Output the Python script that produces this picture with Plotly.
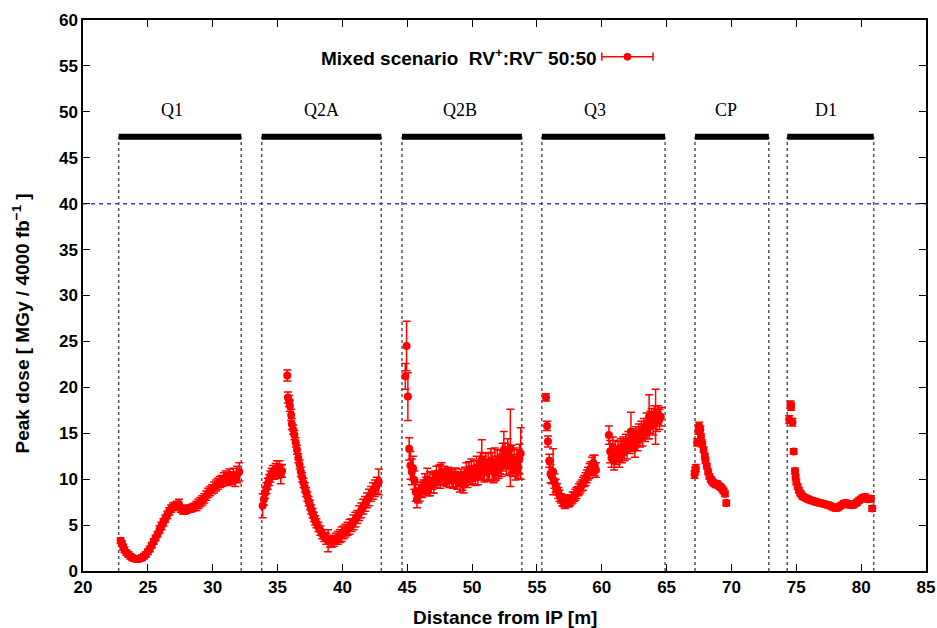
import plotly.graph_objects as go

# ---------------- data ----------------
q1_x = [22.9, 23.0, 23.1, 23.2, 23.35, 23.5, 23.65, 23.8, 23.95, 24.1, 24.25, 24.4, 24.55, 24.7, 24.85,
        25.0, 25.15, 25.3, 25.45, 25.6, 25.75, 25.9, 26.05, 26.2, 26.35, 26.5, 26.65, 26.8, 26.95, 27.1,
        27.25, 27.4, 27.55, 27.7, 27.85, 28.0, 28.15, 28.3, 28.45, 28.6, 28.75, 28.9, 29.05, 29.2, 29.35,
        29.5, 29.65, 29.8, 29.95, 30.1, 30.25, 30.4, 30.55, 30.7, 30.85, 31.0, 31.15, 31.3, 31.45, 31.6,
        31.75, 31.9, 32.05]
q1_y = [3.3, 3.0, 2.6, 2.3, 2.0, 1.8, 1.6, 1.45, 1.35, 1.3, 1.3, 1.35, 1.45, 1.6, 1.8,
        2.1, 2.4, 2.8, 3.2, 3.6, 4.0, 4.5, 4.9, 5.3, 5.7, 6.1, 6.5, 6.8, 7.0, 7.1,
        7.2, 7.3, 6.8, 6.6, 6.6, 6.7, 6.8, 6.8, 6.9, 7.0, 7.1, 7.3, 7.5, 7.7, 7.9,
        8.2, 8.5, 8.7, 8.9, 9.1, 9.3, 9.5, 9.7, 9.8, 10.0, 10.2, 10.0, 10.3, 10.1, 10.4,
        10.0, 10.5, 10.8]
q1_err = [0.3, 0.3, 0.3, 0.3, 0.3, 0.3, 0.3, 0.3, 0.3, 0.3, 0.3, 0.3, 0.3, 0.3, 0.3,
          0.3, 0.3, 0.3, 0.3, 0.3, 0.3, 0.4, 0.4, 0.4, 0.4, 0.4, 0.4, 0.4, 0.4, 0.4,
          0.4, 0.5, 0.4, 0.4, 0.4, 0.4, 0.4, 0.4, 0.4, 0.4, 0.5, 0.5, 0.5, 0.5, 0.5,
          0.5, 0.5, 0.5, 0.5, 0.6, 0.6, 0.6, 0.6, 0.6, 0.7, 0.7, 0.7, 0.8, 0.7, 0.8,
          0.8, 0.9, 1.0]

q2a_x = [33.85, 33.95, 34.05, 34.15, 34.25, 34.35, 34.45, 34.55, 34.65, 34.75, 34.85, 34.95, 35.05, 35.15,
         35.25, 35.35, 35.75, 35.8, 35.9, 35.95, 36.05, 36.1, 36.2, 36.3, 36.4, 36.5, 36.6, 36.7,
         36.8, 36.9, 37.0, 37.1, 37.2, 37.3, 37.4, 37.5, 37.6, 37.7, 37.8, 37.9, 38.0, 38.15,
         38.3, 38.45, 38.6, 38.75, 38.9, 39.05, 39.2, 39.35, 39.5, 39.65, 39.8, 39.95, 40.1, 40.25,
         40.4, 40.55, 40.7, 40.85, 41.0, 41.15, 41.3, 41.45, 41.6, 41.75, 41.9, 42.05, 42.2, 42.35,
         42.5, 42.65, 42.8]
q2a_y = [7.1, 7.8, 8.5, 9.0, 9.5, 9.9, 10.3, 10.6, 10.8, 10.6, 11.0, 11.2, 10.8, 11.3,
         10.5, 10.9, 21.3, 18.9, 18.5, 18.0, 17.0, 16.0, 15.4, 14.8, 14.0, 13.2, 12.3, 11.6,
         10.8, 10.2, 9.6, 9.1, 8.6, 8.1, 7.6, 7.2, 6.7, 6.3, 5.9, 5.5, 5.2, 4.8,
         4.4, 4.0, 3.7, 3.5, 3.3, 3.2, 3.2, 3.3, 3.5, 3.6, 3.8, 4.0, 4.2, 4.4,
         4.6, 4.8, 5.0, 5.3, 5.6, 5.9, 6.3, 6.6, 7.0, 7.3, 7.7, 8.0, 8.4, 8.7,
         9.0, 9.3, 9.7]
q2a_err = [1.3, 0.6, 0.6, 0.6, 0.6, 0.6, 0.6, 0.6, 0.7, 0.6, 0.7, 0.8, 0.7, 0.7,
           1.0, 0.7, 0.6, 0.6, 0.6, 0.6, 0.6, 0.6, 0.5, 0.5, 0.5, 0.5, 0.5, 0.5,
           0.5, 0.5, 0.5, 0.5, 0.5, 0.5, 0.5, 0.5, 0.5, 0.5, 0.5, 0.5, 0.5, 0.5,
           0.5, 0.5, 0.5, 0.6, 1.2, 0.6, 0.6, 0.6, 0.6, 0.7, 0.7, 0.8, 0.7, 0.7,
           0.7, 0.8, 0.7, 0.8, 0.8, 0.7, 0.8, 0.8, 0.8, 0.8, 0.8, 0.9, 0.8, 0.9,
           0.9, 0.9, 1.4]

q2b_x = [44.85, 44.95, 45.05, 45.15, 45.25, 45.35, 45.45, 45.55, 45.65, 45.75, 45.85, 45.95, 46.05, 46.15,
         46.25, 46.35, 46.45, 46.55, 46.65, 46.75, 46.85, 46.95, 47.05, 47.15, 47.25, 47.35, 47.45, 47.55,
         47.65, 47.75, 47.85, 47.95, 48.05, 48.15, 48.25, 48.35, 48.45, 48.55, 48.65, 48.75, 48.85, 48.95,
         49.05, 49.15, 49.25, 49.35, 49.45, 49.55, 49.65, 49.75, 49.85, 49.95, 50.05, 50.15, 50.25, 50.35,
         50.45, 50.55, 50.65, 50.75, 50.85, 50.95, 51.05, 51.15, 51.25, 51.35, 51.45, 51.55, 51.65, 51.75,
         51.85, 51.95, 52.05, 52.15, 52.25, 52.35, 52.45, 52.55, 52.65, 52.75, 52.85, 52.95, 53.05, 53.15,
         53.25, 53.35, 53.45, 53.55, 53.65, 53.75]
q2b_y = [21.2, 24.5, 19.0, 13.3, 11.5, 10.8, 11.2, 9.9, 8.6, 7.8, 8.2, 8.5, 8.9, 8.7,
         9.1, 9.6, 9.3, 10.0, 9.0, 9.5, 9.3, 9.8, 9.5, 10.0, 10.4, 10.1, 10.5, 10.3,
         10.6, 10.2, 10.4, 10.3, 10.1, 10.5, 10.0, 10.3, 10.1, 9.9, 10.4, 10.2, 9.8, 10.0,
         9.6, 10.2, 9.8, 9.4, 10.3, 10.6, 10.0, 10.8, 10.4, 11.0, 10.5, 10.9, 10.3, 11.3,
         10.7, 11.0, 11.5, 12.1, 11.2, 10.8, 11.6, 10.9, 11.4, 11.0, 12.0, 11.4, 10.8, 11.6,
         11.2, 11.8, 11.3, 11.9, 11.5, 12.4, 13.2, 12.5, 12.0, 12.8, 11.7, 13.4, 12.2, 11.5,
         12.0, 11.1, 11.8, 11.3, 12.2, 12.8]
q2b_err = [1.4, 2.7, 2.6, 1.2, 1.5, 1.4, 1.3, 1.0, 1.0, 0.9, 0.8, 0.9, 0.8, 0.7,
           0.8, 1.0, 0.9, 1.2, 0.8, 1.3, 0.8, 0.9, 1.0, 0.9, 1.0, 0.8, 1.0, 1.3,
           1.2, 0.9, 1.0, 0.8, 0.9, 0.8, 0.9, 0.8, 1.0, 0.9, 0.8, 1.0, 0.9, 0.8,
           1.0, 0.9, 1.0, 0.9, 1.0, 1.2, 0.9, 1.1, 1.0, 1.2, 1.0, 1.1, 1.0, 1.2,
           1.3, 1.0, 1.4, 2.2, 1.3, 1.1, 1.2, 1.1, 1.5, 1.2, 1.3, 1.5, 1.2, 1.8,
           1.3, 1.4, 1.2, 1.3, 1.2, 1.5, 2.0, 1.4, 1.5, 1.6, 1.3, 4.2, 1.5, 1.2,
           1.4, 1.2, 1.4, 1.2, 1.6, 2.8]

q3_x = [55.7, 55.78, 55.85, 55.95, 56.05, 56.15, 56.25, 56.35, 56.45, 56.55, 56.65, 56.75, 56.85, 56.95,
        57.05, 57.15, 57.25, 57.35, 57.45, 57.55, 57.65, 57.75, 57.85, 57.95, 58.05, 58.15, 58.25, 58.35,
        58.45, 58.55, 58.65, 58.75, 58.85, 58.95, 59.05, 59.15, 59.25, 59.35, 59.45, 59.55,
        60.55, 60.65, 60.75, 60.85, 60.95, 61.05, 61.15, 61.25, 61.35, 61.45, 61.55, 61.65, 61.75, 61.85,
        61.95, 62.05, 62.15, 62.25, 62.35, 62.45, 62.55, 62.65, 62.75, 62.85, 62.95, 63.05, 63.15, 63.25,
        63.35, 63.45, 63.55, 63.65, 63.75, 63.85, 63.95, 64.05, 64.15, 64.25, 64.35, 64.45, 64.55]
q3_y = [18.9, 15.8, 14.1, 12.0, 10.6, 10.3, 10.8, 9.8, 9.3, 8.9, 8.5, 8.2, 7.9, 7.7,
        7.5, 7.4, 7.5, 7.6, 7.5, 7.7, 7.8, 8.0, 8.1, 8.3, 8.5, 8.7, 8.9, 9.1,
        9.3, 9.5, 9.8, 10.0, 10.3, 10.6, 10.9, 11.2, 11.5, 11.8, 11.5, 11.0,
        14.8, 13.0, 12.3, 13.5, 12.0, 13.2, 12.5, 13.0, 12.2, 13.4, 12.8, 13.6, 13.1, 13.9,
        13.3, 14.2, 13.8, 15.2, 14.0, 14.5, 13.5, 14.7, 14.2, 15.0, 14.6, 15.3, 14.8, 15.6,
        15.2, 16.0, 15.5, 16.8, 16.2, 16.6, 16.0, 16.9, 16.8, 16.4, 17.0, 16.5, 16.8]
q3_err = [0.4, 0.5, 0.6, 0.7, 1.0, 0.8, 2.5, 0.8, 0.7, 0.6, 0.6, 0.6, 0.5, 0.6,
          0.5, 0.6, 0.5, 0.6, 0.5, 0.6, 0.5, 0.6, 0.5, 0.6, 0.6, 0.5, 0.6, 0.6,
          0.6, 0.7, 0.6, 0.7, 0.7, 0.7, 0.8, 0.7, 0.9, 0.8, 1.1, 0.8,
          1.0, 1.2, 1.0, 1.1, 1.0, 1.0, 0.9, 1.1, 0.9, 1.0, 1.0, 1.0, 1.1, 1.0,
          1.1, 1.0, 1.0, 2.1, 1.0, 1.0, 1.1, 1.0, 1.1, 1.0, 1.1, 1.0, 1.2, 1.0,
          1.1, 1.2, 1.1, 2.4, 1.2, 1.1, 1.2, 1.1, 3.0, 1.2, 1.0, 1.1, 1.0]

cp_x = [67.15, 67.2, 67.25, 67.35, 67.45, 67.5, 67.6, 67.65, 67.7, 67.75, 67.85, 67.95, 68.0, 68.1,
        68.2, 68.3, 68.4, 68.5, 68.6, 68.7, 68.8, 68.9, 69.0, 69.1, 69.2, 69.3, 69.4, 69.5, 69.6]
cp_y = [10.5, 10.9, 11.2, 14.0, 15.3, 15.8, 15.4, 14.6, 14.0, 13.8, 13.2, 12.5, 12.0, 11.4,
        10.8, 10.3, 10.0, 9.8, 9.6, 9.5, 9.4, 9.5, 9.3, 9.2, 9.1, 8.9, 8.7, 8.4, 7.4]
cp_err = [0.4, 0.4, 0.4, 0.4, 0.4, 0.4, 0.4, 0.3, 0.3, 0.3, 0.3, 0.3, 0.3, 0.3,
          0.3, 0.3, 0.3, 0.3, 0.3, 0.3, 0.3, 0.3, 0.3, 0.3, 0.3, 0.3, 0.3, 0.3, 0.3]

d1_x = [74.45, 74.55, 74.6, 74.7, 74.8, 74.9, 74.95, 75.0, 75.1, 75.2, 75.3, 75.4, 75.5, 75.65,
        75.8, 75.95, 76.1, 76.25, 76.4, 76.55, 76.7, 76.85, 77.0, 77.15, 77.3, 77.45, 77.6, 77.75,
        77.9, 78.05, 78.2, 78.35, 78.5, 78.65, 78.8, 78.95, 79.1, 79.25, 79.4, 79.55, 79.7, 79.85,
        80.0, 80.15, 80.3, 80.45, 80.6, 80.75, 80.85]
d1_y = [16.5, 18.1, 17.9, 16.2, 13.0, 10.9, 10.2, 9.7, 9.2, 8.8, 8.5, 8.3, 8.1, 8.0,
        7.9, 7.8, 7.7, 7.65, 7.6, 7.5, 7.45, 7.4, 7.35, 7.3, 7.25, 7.2, 7.1, 7.0,
        6.9, 6.85, 6.9, 7.05, 7.2, 7.35, 7.4, 7.35, 7.2, 7.15, 7.2, 7.35, 7.5, 7.7,
        7.85, 8.0, 8.05, 7.9, 7.8, 7.9, 6.8]
d1_err = [0.4, 0.4, 0.4, 0.4, 0.3, 0.3, 0.3, 0.3, 0.3, 0.3, 0.3, 0.3, 0.3, 0.3,
          0.3, 0.3, 0.3, 0.3, 0.3, 0.3, 0.3, 0.3, 0.3, 0.3, 0.3, 0.3, 0.3, 0.3,
          0.3, 0.3, 0.3, 0.3, 0.3, 0.3, 0.3, 0.3, 0.3, 0.3, 0.3, 0.3, 0.3, 0.3,
          0.3, 0.3, 0.3, 0.3, 0.3, 0.3, 0.3]

magnet_names = ["Q1", "Q2A", "Q2B", "Q3", "CP", "D1"]
magnet_start = [22.75, 33.78, 44.6, 55.38, 67.19, 74.3]
magnet_end = [32.2, 43.0, 53.84, 64.88, 72.88, 80.97]
magnet_label_x = [26.9, 38.4, 49.1, 59.5, 69.6, 77.3]
bar_level = 47.3
label_level = 50.2
limit_level = 40
legend_text = "Mixed scenario&nbsp;&nbsp;RV<sup>+</sup>:RV<sup>−</sup> 50:50"
x_title = "Distance from IP [m]"
y_title = "Peak dose [ MGy / 4000 fb<sup>−1</sup> ]"

x_ticks = list(range(20, 86, 5))
y_ticks = list(range(0, 61, 5))

# ---------------- figure ----------------
RED = "#ff0000"
SANS = "Liberation Sans, Arial, sans-serif"
SERIF = "Liberation Serif, DejaVu Serif, serif"

fig = go.Figure()

segments = [(q1_x, q1_y, q1_err), (q2a_x, q2a_y, q2a_err), (q2b_x, q2b_y, q2b_err),
            (q3_x, q3_y, q3_err), (cp_x, cp_y, cp_err), (d1_x, d1_y, d1_err)]
for xs, ys, es in segments:
    fig.add_trace(go.Scatter(
        x=xs, y=ys, mode="markers",
        marker=dict(color=RED, size=8, line=dict(width=0)),
        error_y=dict(type="data", array=es, visible=True, color=RED, thickness=1.5, width=4),
        showlegend=False, hoverinfo="x+y",
    ))

shapes = []
for xs, xe in zip(magnet_start, magnet_end):
    for xv in (xs, xe):
        shapes.append(dict(type="line", xref="x", yref="y", x0=xv, x1=xv, y0=0, y1=bar_level,
                           line=dict(color="#555555", width=1.5, dash="dot"), layer="below"))
    shapes.append(dict(type="line", xref="x", yref="y", x0=xs, x1=xe, y0=bar_level, y1=bar_level,
                       line=dict(color="black", width=6), layer="above"))
shapes.append(dict(type="line", xref="x", yref="y", x0=20, x1=85, y0=limit_level, y1=limit_level,
                   line=dict(color="#3c3cff", width=1.5, dash="4px,4px"), layer="below"))

# legend glyph (line with caps and dot)
lg_x0, lg_x1, lg_y = 60.0, 63.95, 56.0
lg_xc = (lg_x0 + lg_x1) / 2
shapes.append(dict(type="line", xref="x", yref="y", x0=lg_x0, x1=lg_x1, y0=lg_y, y1=lg_y,
                   line=dict(color=RED, width=1.5)))
for xv in (lg_x0, lg_x1):
    shapes.append(dict(type="line", xref="x", yref="y", x0=xv, x1=xv, y0=lg_y - 0.45, y1=lg_y + 0.45,
                       line=dict(color=RED, width=1.5)))
shapes.append(dict(type="circle", xref="x", yref="y", x0=lg_xc - 0.27, x1=lg_xc + 0.27,
                   y0=lg_y - 0.38, y1=lg_y + 0.38, fillcolor=RED, line=dict(color=RED, width=1)))

annotations = []
for name, lx in zip(magnet_names, magnet_label_x):
    annotations.append(dict(x=lx, y=label_level, xref="x", yref="y", text=name, showarrow=False,
                            font=dict(family=SERIF, size=18, color="black"), xanchor="center", yanchor="middle"))
annotations.append(dict(x=59.75, y=lg_y, xref="x", yref="y", text=legend_text, showarrow=False,
                        xanchor="right", yanchor="middle",
                        font=dict(family=SANS, size=19, color="black", weight="bold")))
title_font = dict(family=SANS, size=19, color="black", weight="bold")
annotations.append(dict(x=0.5, y=-0.084, xref="paper", yref="paper", text=x_title, showarrow=False,
                        xanchor="center", yanchor="middle", font=title_font))
annotations.append(dict(x=-0.073, y=0.45, xref="paper", yref="paper", text=y_title, showarrow=False,
                        textangle=-90, xanchor="center", yanchor="middle", font=title_font))

fig.update_layout(
    width=937, height=628,
    margin=dict(l=83, r=11, t=20, b=57, autoexpand=False),
    paper_bgcolor="white", plot_bgcolor="white",
    shapes=shapes, annotations=annotations,
    font=dict(family=SANS, color="black"),
    showlegend=False,
)
axis_common = dict(showgrid=False, zeroline=False, showline=True, linecolor="black", linewidth=1.5,
                   mirror="ticks", ticks="inside", ticklen=7, tickwidth=1.2, tickcolor="black",
                   automargin=False,
                   tickfont=dict(family=SANS, size=17, color="black", weight="bold"))
fig.update_xaxes(range=[20, 85], tickvals=x_ticks, ticktext=[str(v) for v in x_ticks], **axis_common)
fig.update_yaxes(range=[0, 60], tickvals=y_ticks, ticktext=[str(v) for v in y_ticks], **axis_common)

# remove the default page margin so the figure fills the window exactly
fig.write_html("out.html", config={"displayModeBar": False},
               post_script="document.body.style.margin='0';document.body.style.overflow='hidden';")
